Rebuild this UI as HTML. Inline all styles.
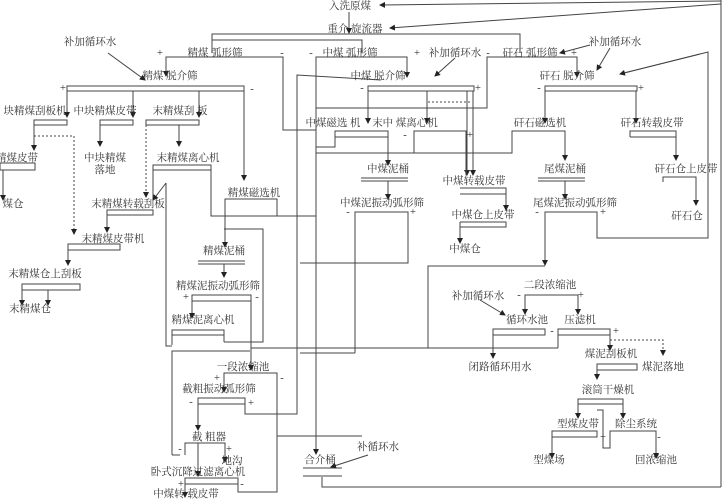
<!DOCTYPE html>
<html><head><meta charset="utf-8"><style>
body{margin:0;background:#fff}
svg{display:block}
text{font-family:"Liberation Serif","Noto Serif CJK SC",serif;font-size:10.5px;fill:#333;text-anchor:middle}
.s{font-size:10px}
</style></head><body>
<svg width="723" height="500" viewBox="0 0 723 500">
<defs><marker id="a" markerWidth="6" markerHeight="6" refX="5" refY="3" orient="auto"><path d="M0,0L6,3L0,6z" fill="#222"/></marker></defs>
<g stroke="#444" stroke-width="1" fill="none">
<!-- top -->
<line x1="721" y1="1" x2="380" y2="5" marker-end="url(#a)"/>
<line x1="721" y1="4" x2="390" y2="28" marker-end="url(#a)"/>
<line x1="721" y1="0" x2="721" y2="487"/>
<line x1="349" y1="12" x2="349" y2="33" marker-end="url(#a)"/>
<polyline points="212,53 212,34 520,34 520,53"/>
<polyline points="212,40 362,40 362,53"/>
<!-- 精煤弧形筛 -->
<polyline points="166,75 166,57 283,57 283,130 316,130"/>
<line x1="166" y1="66" x2="166" y2="76" marker-end="url(#a)"/>
<line x1="108" y1="53" x2="145" y2="80" marker-end="url(#a)"/>
<rect x="67" y="86" width="177" height="5"/>
<line x1="67" y1="91" x2="67" y2="117" marker-end="url(#a)"/>
<line x1="133" y1="91" x2="133" y2="117" marker-end="url(#a)"/>
<line x1="199" y1="91" x2="199" y2="117" marker-end="url(#a)"/>
<line x1="244" y1="91" x2="244" y2="180" marker-end="url(#a)"/>
<rect x="34" y="120" width="33" height="5"/>
<line x1="34" y1="125" x2="34" y2="150" marker-end="url(#a)"/>
<polyline points="34,136 74,136 74,234" stroke-dasharray="2,2" marker-end="url(#a)"/>
<rect x="100" y="120" width="33" height="5"/>
<line x1="100" y1="125" x2="100" y2="146" marker-end="url(#a)"/>
<rect x="146" y="120" width="53" height="5"/>
<line x1="179" y1="125" x2="179" y2="146" marker-end="url(#a)"/>
<line x1="146" y1="125" x2="146" y2="197" stroke-dasharray="2,2" marker-end="url(#a)"/>
<rect x="0" y="163" width="35" height="7"/>
<line x1="3" y1="170" x2="3" y2="200" marker-end="url(#a)"/>
<polyline points="153,200 153,165 211,165 211,216 278,216"/>
<line x1="153" y1="170" x2="211" y2="170"/>
<line x1="166" y1="183" x2="153" y2="200" marker-end="url(#a)"/>
<polyline points="166,183 166,346 172,346"/>
<rect x="107" y="210" width="46" height="5"/>
<line x1="107" y1="215" x2="107" y2="232" marker-end="url(#a)"/>
<rect x="68" y="244" width="52" height="6"/>
<line x1="68" y1="250" x2="68" y2="265" marker-end="url(#a)"/>
<rect x="22" y="284" width="58" height="6"/>
<line x1="22" y1="290" x2="22" y2="305" marker-end="url(#a)"/>
<line x1="48" y1="290" x2="48" y2="305" marker-end="url(#a)"/>
<!-- 精煤磁选机 -->
<polyline points="225,247 225,199 277,199 277,216 316,216"/>
<line x1="225" y1="210" x2="225" y2="247" marker-end="url(#a)"/>
<line x1="198" y1="261" x2="245" y2="261"/><line x1="198" y1="264" x2="245" y2="264"/>
<polyline points="224,229 263,229 263,342 224,342"/>
<line x1="224" y1="264" x2="224" y2="277" marker-end="url(#a)"/>
<rect x="192" y="295" width="59" height="6"/>
<line x1="192" y1="301" x2="192" y2="318" marker-end="url(#a)"/>
<line x1="251" y1="301" x2="251" y2="370" marker-end="url(#a)"/>
<polyline points="172,345 172,330 224,330 224,342"/>
<line x1="172" y1="335" x2="224" y2="335"/>
<line x1="251" y1="348" x2="558" y2="348"/>
<polyline points="172,455 172,351 250,351"/>
<line x1="172" y1="455" x2="180" y2="455"/>
<polyline points="224,390 224,373 277,373 277,492 238,492 238,484"/>
<rect x="198" y="398" width="47" height="6"/>
<line x1="224" y1="380" x2="224" y2="392" marker-end="url(#a)"/>
<polyline points="245,404 245,414 297,414 297,75 381,80"/>
<line x1="198" y1="404" x2="198" y2="430" marker-end="url(#a)"/>
<polyline points="185,455 185,443 225,443 225,462"/>
<line x1="225" y1="450" x2="225" y2="462" marker-end="url(#a)"/>
<line x1="198" y1="443" x2="198" y2="476" marker-end="url(#a)"/>
<rect x="185" y="478" width="53" height="6"/>
<line x1="185" y1="484" x2="185" y2="497" marker-end="url(#a)"/>
<line x1="277" y1="436" x2="362" y2="436"/>
<!-- 中煤 -->
<polyline points="316,453 316,57 407,57 407,77"/>
<line x1="407" y1="66" x2="407" y2="77" marker-end="url(#a)"/>
<line x1="455" y1="58" x2="435" y2="76" marker-end="url(#a)"/>
<polyline points="316,108 487,108 487,57 577,57 577,77"/>
<line x1="577" y1="66" x2="577" y2="77" marker-end="url(#a)"/>
<rect x="368" y="86" width="106" height="5"/>
<line x1="368" y1="91" x2="368" y2="123" marker-end="url(#a)"/>
<line x1="427" y1="91" x2="427" y2="123" marker-end="url(#a)"/>
<line x1="467" y1="91" x2="467" y2="175" marker-end="url(#a)"/>
<line x1="473" y1="91" x2="473" y2="175" marker-end="url(#a)"/>
<line x1="428" y1="102" x2="472" y2="102" stroke-dasharray="2,2"/>
<polyline points="316,147 335,147 335,131 388,131 388,165"/>
<line x1="335" y1="137" x2="388" y2="137"/>
<line x1="388" y1="150" x2="388" y2="165" marker-end="url(#a)"/>
<polyline points="316,153 414,153 414,131 466,131 466,175"/>
<polyline points="414,153 512,153 512,131 565,131 565,160"/>
<line x1="565" y1="145" x2="565" y2="160" marker-end="url(#a)"/>
<line x1="361" y1="178" x2="408" y2="178"/><line x1="361" y1="181" x2="408" y2="181"/>
<line x1="388" y1="181" x2="388" y2="199" marker-end="url(#a)"/>
<line x1="538" y1="178" x2="585" y2="178"/><line x1="538" y1="181" x2="585" y2="181"/>
<line x1="565" y1="181" x2="565" y2="199" marker-end="url(#a)"/>
<polyline points="460,188 506,188 506,194 460,194"/>
<line x1="506" y1="188" x2="506" y2="210" marker-end="url(#a)"/>
<polyline points="460,222 506,222 506,227 460,227"/>
<line x1="460" y1="222" x2="460" y2="243" marker-end="url(#a)"/>
<polyline points="355,353 355,212 408,212 408,263 300,263"/>
<line x1="300" y1="353" x2="355" y2="353"/>
<polyline points="428,348 428,266 545,266"/>
<polyline points="545,265 545,212 597,212 597,238 708,238 708,52 620,74" />
<line x1="545" y1="250" x2="545" y2="265" marker-end="url(#a)"/>
<line x1="700" y1="54" x2="620" y2="74" marker-end="url(#a)"/>
<!-- 矸石 -->
<rect x="545" y="86" width="92" height="5"/>
<line x1="545" y1="91" x2="545" y2="123" marker-end="url(#a)"/>
<line x1="636" y1="91" x2="636" y2="123" marker-end="url(#a)"/>
<line x1="590" y1="45" x2="560" y2="53" marker-end="url(#a)"/>
<line x1="610" y1="48" x2="597" y2="70" marker-end="url(#a)"/>
<polyline points="630,137 630,131 676,131 676,160"/>
<line x1="630" y1="137" x2="676" y2="137"/>
<line x1="676" y1="145" x2="676" y2="160" marker-end="url(#a)"/>
<polyline points="663,182 663,177 696,177 696,205"/>
<line x1="696" y1="190" x2="696" y2="205" marker-end="url(#a)"/>
<!-- 二段 -->
<polyline points="525,314 525,295 578,295 578,314"/>
<line x1="525" y1="305" x2="525" y2="314" marker-end="url(#a)"/>
<line x1="578" y1="305" x2="578" y2="314" marker-end="url(#a)"/>
<line x1="480" y1="300" x2="505" y2="315" marker-end="url(#a)"/>
<rect x="493" y="329" width="52" height="6"/>
<line x1="493" y1="335" x2="493" y2="358" marker-end="url(#a)"/>
<polyline points="558,348 558,329 610,329 610,350"/>
<line x1="558" y1="335" x2="610" y2="335"/>
<line x1="610" y1="335" x2="610" y2="350" marker-end="url(#a)"/>
<polyline points="610,340 663,340 663,355" stroke-dasharray="2,2" marker-end="url(#a)"/>
<rect x="597" y="364" width="40" height="6"/>
<line x1="597" y1="370" x2="597" y2="379" marker-end="url(#a)"/>
<polyline points="578,418 578,399 623,399 623,418"/>
<line x1="578" y1="404" x2="623" y2="404"/>
<line x1="578" y1="410" x2="578" y2="418" marker-end="url(#a)"/>
<line x1="623" y1="410" x2="623" y2="418" marker-end="url(#a)"/>
<polyline points="597,410 603,410 603,448 610,448 610,431"/>
<polyline points="552,458 552,431 597,431 597,437 552,437"/>
<line x1="552" y1="445" x2="552" y2="458" marker-end="url(#a)"/>
<polyline points="610,437 610,431 656,431 656,458"/>
<line x1="656" y1="445" x2="656" y2="458" marker-end="url(#a)"/>
<!-- 合介桶 -->
<line x1="316" y1="440" x2="316" y2="454" marker-end="url(#a)"/>
<line x1="303" y1="468" x2="342" y2="468"/><line x1="303" y1="476" x2="342" y2="476"/>
<line x1="368" y1="455" x2="331" y2="467" marker-end="url(#a)"/>
<polyline points="322,477 322,487 721,487"/>
</g>
<g>
<text x="350" y="9">入洗原煤</text>
<text x="355" y="32">重介 旋流器</text>
<text x="90" y="45">补加循环水</text>
<text x="215" y="56">精煤 弧形筛</text>
<text x="170" y="79">精煤 脱介筛</text>
<text x="35" y="114">块精煤刮板机</text>
<text x="105" y="114">中块精煤皮带</text>
<text x="180" y="114">末精煤刮 板</text>
<text x="17" y="161">精煤皮带</text>
<text x="105" y="161">中块精煤</text>
<text x="105" y="173">落地</text>
<text x="188" y="161">末精煤离心机</text>
<text x="13" y="207">煤仓</text>
<text x="254" y="196">精煤磁选机</text>
<text x="128" y="207">末精煤转载刮板</text>
<text x="113" y="242">末精煤皮带机</text>
<text x="224" y="254">精煤泥桶</text>
<text x="45" y="277">末精煤仓上刮板</text>
<text x="218" y="289">精煤泥振动弧形筛</text>
<text x="30" y="312">末精煤仓</text>
<text x="203" y="323">精煤泥离心机</text>
<text x="243" y="370">一段浓缩池</text>
<text x="219" y="392">截粗振动弧形筛</text>
<text x="209" y="440">截 粗器</text>
<text x="232" y="464">地沟</text>
<text x="198" y="475">卧式沉降过滤离心机</text>
<text x="186" y="497">中煤转 载皮带</text>
<text x="350" y="56">中煤 弧形筛</text>
<text x="455" y="56">补加循环水</text>
<text x="530" y="56">矸石 弧形筛</text>
<text x="615" y="45">补加循环水</text>
<text x="378" y="79">中煤 脱介筛</text>
<text x="567" y="79">矸石 脱介筛</text>
<text x="333" y="126">中煤磁选 机</text>
<text x="405" y="126">末中 煤离心机</text>
<text x="540" y="126">矸石磁选机</text>
<text x="652" y="126">矸石转载皮带</text>
<text x="388" y="172">中煤泥桶</text>
<text x="474" y="184">中煤转载皮带</text>
<text x="565" y="172">尾煤泥桶</text>
<text x="686" y="172">矸石仓上皮带</text>
<text x="382" y="206">中煤泥振动弧形筛</text>
<text x="575" y="206">尾煤泥振动弧形筛</text>
<text x="483" y="218">中煤仓上皮带</text>
<text x="687" y="219">矸石仓</text>
<text x="465" y="252">中煤仓</text>
<text x="550" y="288">二段浓缩池</text>
<text x="478" y="299">补加循环水</text>
<text x="527" y="323">循环水池</text>
<text x="580" y="323">压滤机</text>
<text x="500" y="370">闭路循环用水</text>
<text x="611" y="357">煤泥刮板机</text>
<text x="663" y="370">煤泥落地</text>
<text x="608" y="393">滚筒干燥机</text>
<text x="578" y="427">型煤皮带</text>
<text x="636" y="427">除尘系统</text>
<text x="549" y="463">型煤场</text>
<text x="656" y="463">回浓缩池</text>
<text x="320" y="463">合介桶</text>
<text x="378" y="450">补循环水</text>
</g>
<g class="s">
<text x="160" y="56">+</text><text x="282" y="56">-</text><text x="311" y="56">-</text><text x="417" y="56">+</text>
<text x="488" y="56">-</text><text x="574" y="56">+</text>
<text x="63" y="91">+</text><text x="252" y="92">-</text>
<text x="362" y="91">-</text><text x="478" y="91">+</text><text x="539" y="91">-</text><text x="641" y="91">+</text>
<text x="405" y="138">-</text><text x="470" y="138">+</text>
<text x="348" y="215">-</text><text x="413" y="215">+</text><text x="537" y="215">-</text><text x="603" y="215">+</text>
<text x="186" y="300">+</text><text x="257" y="300">-</text>
<text x="217" y="381">+</text><text x="282" y="381">-</text>
<text x="191" y="405">-</text><text x="251" y="406">+</text>
<text x="180" y="452">-</text><text x="229" y="452">+</text>
<text x="181" y="487">+</text><text x="242" y="487">-</text>
<text x="519" y="298">-</text><text x="581" y="298">+</text>
<text x="552" y="334">-</text><text x="616" y="334">+</text>
<text x="603" y="440">+</text><text x="659" y="440">-</text>
</g>
</svg>
</body></html>
